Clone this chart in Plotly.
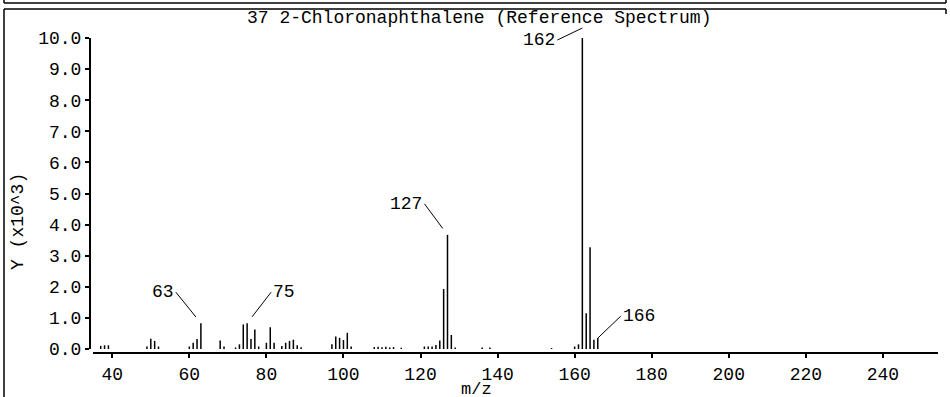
import plotly.graph_objects as go

# ---- data (m/z, intensity in thousands) ----
mz = [37, 38, 39,
      49, 50, 51, 52,
      60, 61, 62, 63,
      68, 69,
      72, 73, 74, 75, 76, 77, 78,
      80, 81, 82,
      84, 85, 86, 87, 88, 89,
      97, 98, 99, 100, 101, 102,
      108, 109, 110, 111, 112, 113, 115,
      121, 122, 123, 124, 125, 126, 127, 128, 129,
      136, 138,
      154,
      160, 161, 162, 163, 164, 165, 166]
intensity = [0.10, 0.12, 0.12,
             0.08, 0.33, 0.26, 0.08,
             0.08, 0.20, 0.32, 0.83,
             0.27, 0.08,
             0.05, 0.15, 0.79, 0.83, 0.32, 0.63, 0.08,
             0.20, 0.70, 0.20,
             0.10, 0.20, 0.26, 0.30, 0.12, 0.06,
             0.15, 0.40, 0.36, 0.29, 0.52, 0.08,
             0.06, 0.07, 0.06, 0.07, 0.05, 0.06, 0.04,
             0.08, 0.08, 0.08, 0.13, 0.27, 1.93, 3.67, 0.45, 0.05,
             0.05, 0.05,
             0.03,
             0.08, 0.15, 10.0, 1.15, 3.27, 0.30, 0.35]

labeled_peaks = [63, 75, 127, 162, 166]
x_ticks = [40, 60, 80, 100, 120, 140, 160, 180, 200, 220, 240]
y_ticks = [0, 1, 2, 3, 4, 5, 6, 7, 8, 9, 10]

title_text = "37 2-Chloronaphthalene (Reference Spectrum)"
x_title = "m/z"
y_title = "Y (x10^3)"

# ---- geometry helpers (pixel -> paper) ----
W, H = 950, 397
L, R, T, B = 90, 12, 38, 44
PW, PH = W - L - R, H - T - B


def xp(px):
    return (px - L) / PW


def yp(py):
    return (H - B - py) / PH


FONT = "Liberation Mono"

# stems
sx, sy = [], []
for m, v in zip(mz, intensity):
    sx += [m, m, None]
    sy += [0, v, None]

fig = go.Figure()
fig.add_trace(go.Scatter(x=sx, y=sy, mode="lines",
                         line=dict(color="black", width=1.5),
                         hoverinfo="skip", showlegend=False))

# label styling: (ax, ay, xanchor, standoff, yshift)
label_style = {
    63: (-25, -31, "right", 8, 0),
    75: (24, -31, "left", 8, 0),
    127: (-23, -31, "right", 8, 0),
    162: (-25, 12, "right", 0, 10),
    166: (23, -22, "left", 0, 0),
}
lookup = dict(zip(mz, intensity))
annotations = []
for m in labeled_peaks:
    ax, ay, xa, so, ys = label_style[m]
    annotations.append(dict(
        x=m, y=lookup[m], xref="x", yref="y", text=str(m),
        showarrow=True, arrowhead=0, arrowwidth=1, arrowcolor="black",
        ax=ax, ay=ay, xanchor=xa, yanchor="middle", standoff=so,
        yshift=ys, font=dict(family=FONT, size=18, color="black")))

annotations += [
    dict(x=xp(476), y=yp(389), xref="paper", yref="paper", text=x_title,
         showarrow=False, xanchor="center", yanchor="middle",
         font=dict(family=FONT, size=17, color="black")),
    dict(x=xp(18), y=yp(222), xref="paper", yref="paper", text=y_title,
         showarrow=False, textangle=-90, xanchor="center", yanchor="middle",
         font=dict(family=FONT, size=18, color="black")),
    dict(x=xp(479), y=yp(18), xref="paper", yref="paper", text=title_text,
         showarrow=False, xanchor="center", yanchor="middle",
         font=dict(family=FONT, size=18, color="black")),
    # cut-off label of the panel above
    dict(x=xp(470), y=yp(-6), xref="paper", yref="paper", text=x_title,
         showarrow=False, xanchor="center", yanchor="middle",
         font=dict(family=FONT, size=18, color="black")),
]

shapes = []
def pline(x0, y0, x1, y1, w=1.5):
    shapes.append(dict(type="line", xref="paper", yref="paper",
                       x0=xp(x0), y0=yp(y0), x1=xp(x1), y1=yp(y1),
                       line=dict(color="black", width=w)))

pline(4, 3, 946, 3)
pline(946, 0, 946, 3)
pline(4, 0, 4, 3)
pline(4, 9, 946, 9)
pline(4, 9, 4, 400)
pline(946, 9, 946, 14)

fig.update_layout(
    width=W, height=H, autosize=False,
    margin=dict(l=L, r=R, t=T, b=B, pad=0, autoexpand=False),
    paper_bgcolor="white", plot_bgcolor="white",
    showlegend=False,
    annotations=annotations, shapes=shapes,
    xaxis=dict(domain=[3 / PW, 1], anchor="free", position=0,
               range=[35, 254.3], tickvals=x_ticks, automargin=False,
               ticks="outside", ticklen=4, tickwidth=1.5, tickcolor="black",
               showline=True, linecolor="black", linewidth=2,
               showgrid=False, zeroline=False,
               tickfont=dict(family=FONT, size=18, color="black")),
    yaxis=dict(domain=[4 / PH, 1], anchor="free", position=0,
               range=[0, 10], tickvals=y_ticks, tickformat=".1f",
               automargin=False,
               ticks="outside", ticklen=4, tickwidth=1.5, tickcolor="black",
               showline=True, linecolor="black", linewidth=2,
               showgrid=False, zeroline=False,
               tickfont=dict(family=FONT, size=18, color="black")),
)

fig.write_html(
    "out.html",
    config={"displayModeBar": False},
    post_script="document.body.style.margin='0';"
                "document.body.style.overflow='hidden';",
)
